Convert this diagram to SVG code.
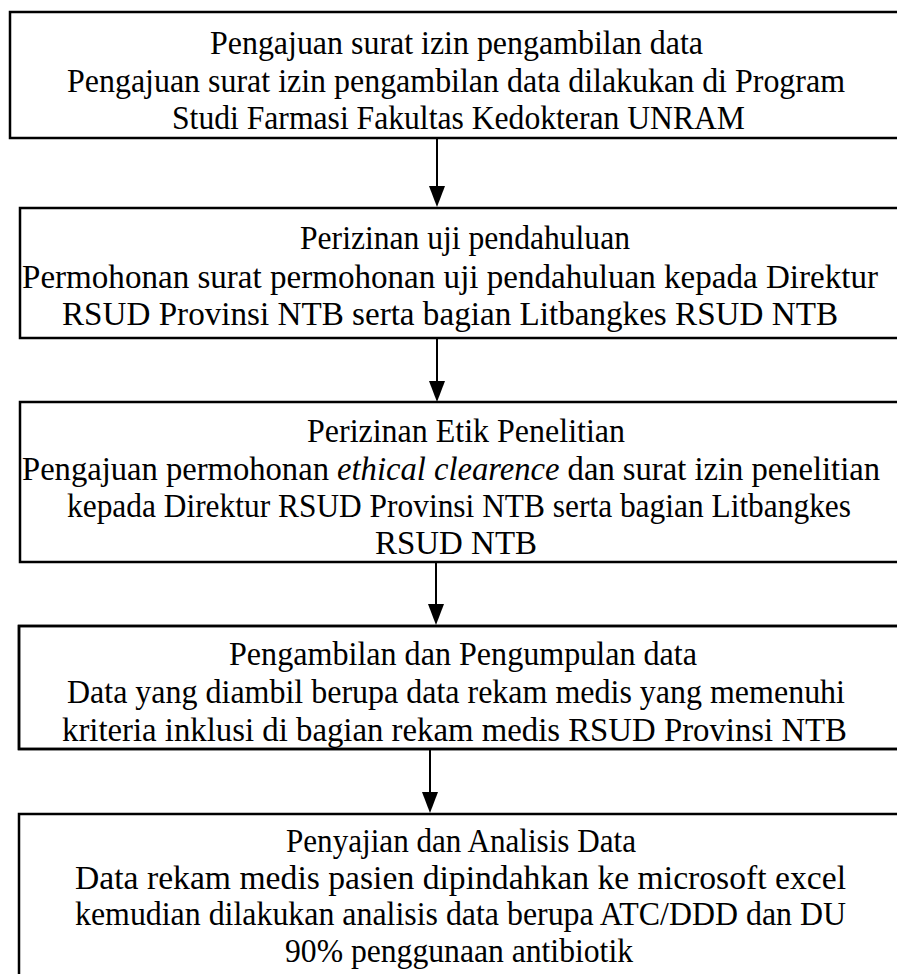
<svg xmlns="http://www.w3.org/2000/svg" width="897" height="974" viewBox="0 0 897 974">
<defs>
<clipPath id="clip4"><rect x="19" y="626" width="900" height="123"/></clipPath>
<style>
.box{fill:#fff;stroke:#000;stroke-width:2.5}
.t{font-family:"Liberation Serif","Times New Roman",serif;font-size:33px;fill:#000;text-anchor:middle}
.c{stroke:#000;stroke-width:2;fill:none}
</style>
</defs>
<rect width="897" height="974" fill="#fff"/>
<g id="connectors">
<line class="c" x1="437" y1="138" x2="437" y2="200"/>
<path d="M429,186 L445,186 L437,207 z"/>
<line class="c" x1="437" y1="338" x2="437" y2="395"/>
<path d="M429,381 L445,381 L437,402 z"/>
<line class="c" x1="436" y1="562" x2="436" y2="618"/>
<path d="M428,604 L444,604 L436,625 z"/>
<line class="c" x1="430" y1="749" x2="430" y2="806"/>
<path d="M422,792 L438,792 L430,813 z"/>
</g>
<g id="n1">
<rect class="box" x="10" y="12" width="900" height="126"/>
<text class="t" x="456.5" y="54" textLength="493" lengthAdjust="spacingAndGlyphs">Pengajuan surat izin pengambilan data</text>
<text class="t" x="456" y="92" textLength="778" lengthAdjust="spacingAndGlyphs">Pengajuan surat izin pengambilan data dilakukan di Program</text>
<text class="t" x="458.5" y="129" textLength="573" lengthAdjust="spacingAndGlyphs">Studi Farmasi Fakultas Kedokteran UNRAM</text>
</g>
<g id="n2">
<rect class="box" x="20" y="208" width="900" height="130"/>
<text class="t" x="465" y="249" textLength="330" lengthAdjust="spacingAndGlyphs">Perizinan uji pendahuluan</text>
<text class="t" x="450" y="288" textLength="856" lengthAdjust="spacingAndGlyphs">Permohonan surat permohonan uji pendahuluan kepada Direktur</text>
<text class="t" x="450" y="325" textLength="776" lengthAdjust="spacingAndGlyphs">RSUD Provinsi NTB serta bagian Litbangkes RSUD NTB</text>
</g>
<g id="n3">
<rect class="box" x="20" y="402" width="900" height="160"/>
<text class="t" x="466" y="442" textLength="318" lengthAdjust="spacingAndGlyphs">Perizinan Etik Penelitian</text>
<text class="t" x="451" y="480" textLength="858" lengthAdjust="spacingAndGlyphs">Pengajuan permohonan <tspan font-style="italic">ethical clearence</tspan> dan surat izin penelitian</text>
<text class="t" x="459" y="517" textLength="784" lengthAdjust="spacingAndGlyphs">kepada Direktur RSUD Provinsi NTB serta bagian Litbangkes</text>
<text class="t" x="456" y="554" textLength="162" lengthAdjust="spacingAndGlyphs">RSUD NTB</text>
</g>
<g id="n4">
<rect class="box" x="19" y="626" width="900" height="123"/>
<g clip-path="url(#clip4)">
<text class="t" x="463" y="665" textLength="468" lengthAdjust="spacingAndGlyphs">Pengambilan dan Pengumpulan data</text>
<text class="t" x="456" y="703" textLength="778" lengthAdjust="spacingAndGlyphs">Data yang diambil berupa data rekam medis yang memenuhi</text>
<text class="t" x="454.5" y="741" textLength="785" lengthAdjust="spacingAndGlyphs">kriteria inklusi di bagian rekam medis RSUD Provinsi NTB</text>
</g>
<rect class="box" x="19" y="626" width="900" height="123" fill="none" style="fill:none"/>
</g>
<g id="n5">
<rect class="box" x="19" y="814" width="900" height="200"/>
<text class="t" x="461" y="852" textLength="350" lengthAdjust="spacingAndGlyphs">Penyajian dan Analisis Data</text>
<text class="t" x="460.5" y="889" textLength="771" lengthAdjust="spacingAndGlyphs">Data rekam medis pasien dipindahkan ke microsoft excel</text>
<text class="t" x="460.5" y="925" textLength="771" lengthAdjust="spacingAndGlyphs">kemudian dilakukan analisis data berupa ATC/DDD dan DU</text>
<text class="t" x="459" y="962" textLength="348" lengthAdjust="spacingAndGlyphs">90% penggunaan antibiotik</text>
</g>
</svg>
